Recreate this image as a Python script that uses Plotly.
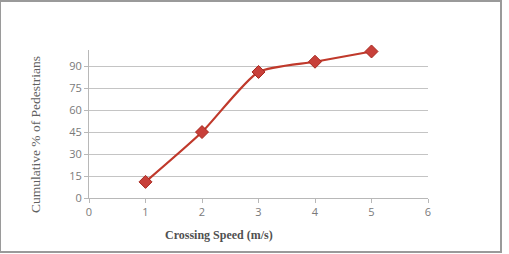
import plotly.graph_objects as go

speed = [1, 2, 3, 4, 5]
cumulative_pct = [11, 45, 86, 93, 100]
y_ticks = [0, 15, 30, 45, 60, 75, 90]
x_ticks = [0, 1, 2, 3, 4, 5, 6]

fig = go.Figure()
fig.add_trace(go.Scatter(
    x=speed, y=cumulative_pct, mode="lines+markers",
    line=dict(color="#c0392b", width=2.2, shape="spline", smoothing=0.6),
    marker=dict(symbol="diamond", size=10, color="#c8403a",
                line=dict(color="#a8281f", width=1)),
    cliponaxis=False,
    showlegend=False,
))

fig.update_layout(
    width=509, height=254,
    margin=dict(l=89, r=81, t=50, b=56),
    paper_bgcolor="white", plot_bgcolor="white",
    font=dict(family="Open Sans", size=11, color="#7a7a7a"),
    shapes=[dict(type="rect", xref="paper", yref="paper",
                 x0=-89/339, x1=(501-89)/339, y0=-(252-198)/148, y1=(198-1)/148,
                 line=dict(color="#9a9a9a", width=2), fillcolor="rgba(0,0,0,0)", layer="below")],
    annotations=[
        dict(text="<b>Crossing Speed (m/s)</b>", x=(219-89)/339, y=-(235-198)/148,
             xref="paper", yref="paper", showarrow=False,
             font=dict(family="Liberation Serif", size=12, color="#505050"),
             xanchor="center", yanchor="middle"),
        dict(text="Cumulative % of Pedestrians", x=(35-89)/339, y=(198-135)/148,
             xref="paper", yref="paper", showarrow=False, textangle=-90,
             font=dict(family="Liberation Serif", size=13.5, color="#606060"),
             xanchor="center", yanchor="middle"),
    ],
)
fig.update_xaxes(range=[0, 6], tickvals=x_ticks, showgrid=False, zeroline=False,
                 showline=True, linecolor="#b8b8b8", linewidth=1,
                 ticks="outside", ticklen=4, tickcolor="#b8b8b8")
fig.update_yaxes(range=[0, 101], tickvals=y_ticks, showgrid=True, gridcolor="#c4c4c4",
                 gridwidth=1, zeroline=False, showline=True, linecolor="#b8b8b8",
                 linewidth=1, ticks="outside", ticklen=4, tickcolor="#b8b8b8")

fig.write_html("out.html")
